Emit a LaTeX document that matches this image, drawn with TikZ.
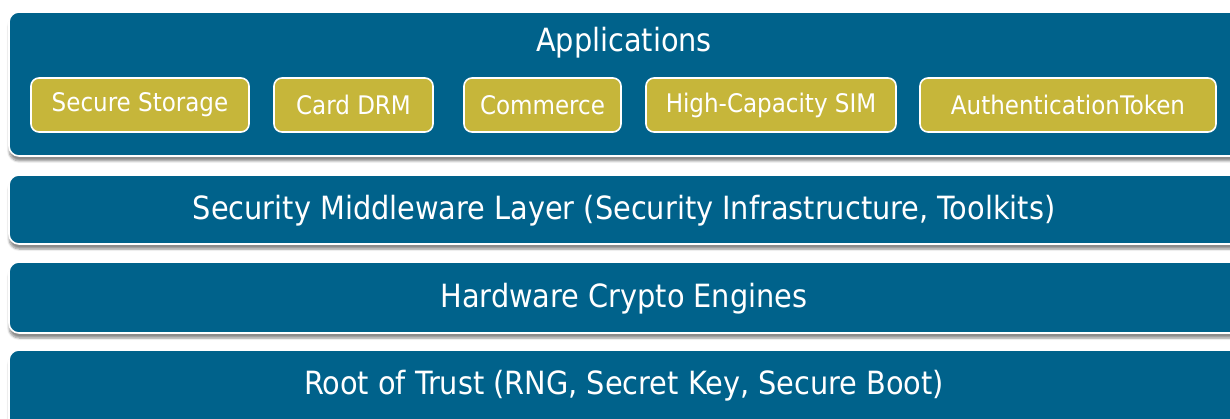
\documentclass[tikz,border=0pt]{standalone}
\usepackage{fontspec}
\setmainfont{DejaVu Sans Condensed}
\usetikzlibrary{shadows.blur}
\definecolor{layerblue}{HTML}{00628B}
\definecolor{appgold}{HTML}{C6B63A}
\begin{document}
\begin{tikzpicture}[x=1pt,y=-1pt,
  layer/.style={draw=white, line width=1.6pt, fill=layerblue, rounded corners=10pt,
    blur shadow={shadow xshift=0pt, shadow yshift=-5pt, shadow blur steps=6, shadow opacity=45}},
  app/.style={draw=white, line width=1.6pt, fill=appgold, rounded corners=8pt,
    minimum height=54pt, inner xsep=0pt, text=white, font=\fontsize{25.6}{30}\selectfont},
  ltext/.style={text=white, font=\fontsize{32}{38}\selectfont}]
\useasboundingbox (0,0) rectangle (1230,419);
% layer slabs
\draw[layer] (9,12) rectangle (1240,156);
\draw[layer] (9,175) rectangle (1240,244);
\draw[layer] (9,262) rectangle (1240,333);
\draw[layer] (9,350) rectangle (1240,440);
% layer captions
\node[ltext] (apps) at (624,43) {Applications};
\node[ltext] (mid) at (624,210.5) {Security Middleware Layer (Security Infrastructure, Toolkits)};
\node[ltext] (hw) at (624,299) {Hardware Crypto Engines};
\node[ltext] (rot) at (624,386) {Root of Trust (RNG, Secret Key, Secure Boot)};
% application boxes
\node[app, minimum width=218pt] (ss) at (140,105) {Secure Storage};
\node[app, minimum width=159pt] (drm) at (353.5,105) {Card DRM};
\node[app, minimum width=157pt] (com) at (542.5,105) {Commerce};
\node[app, minimum width=250pt] (sim) at (771,105) {High-Capacity SIM};
\node[app, minimum width=296pt] (tok) at (1068,105) {AuthenticationToken};
\end{tikzpicture}
\end{document}
